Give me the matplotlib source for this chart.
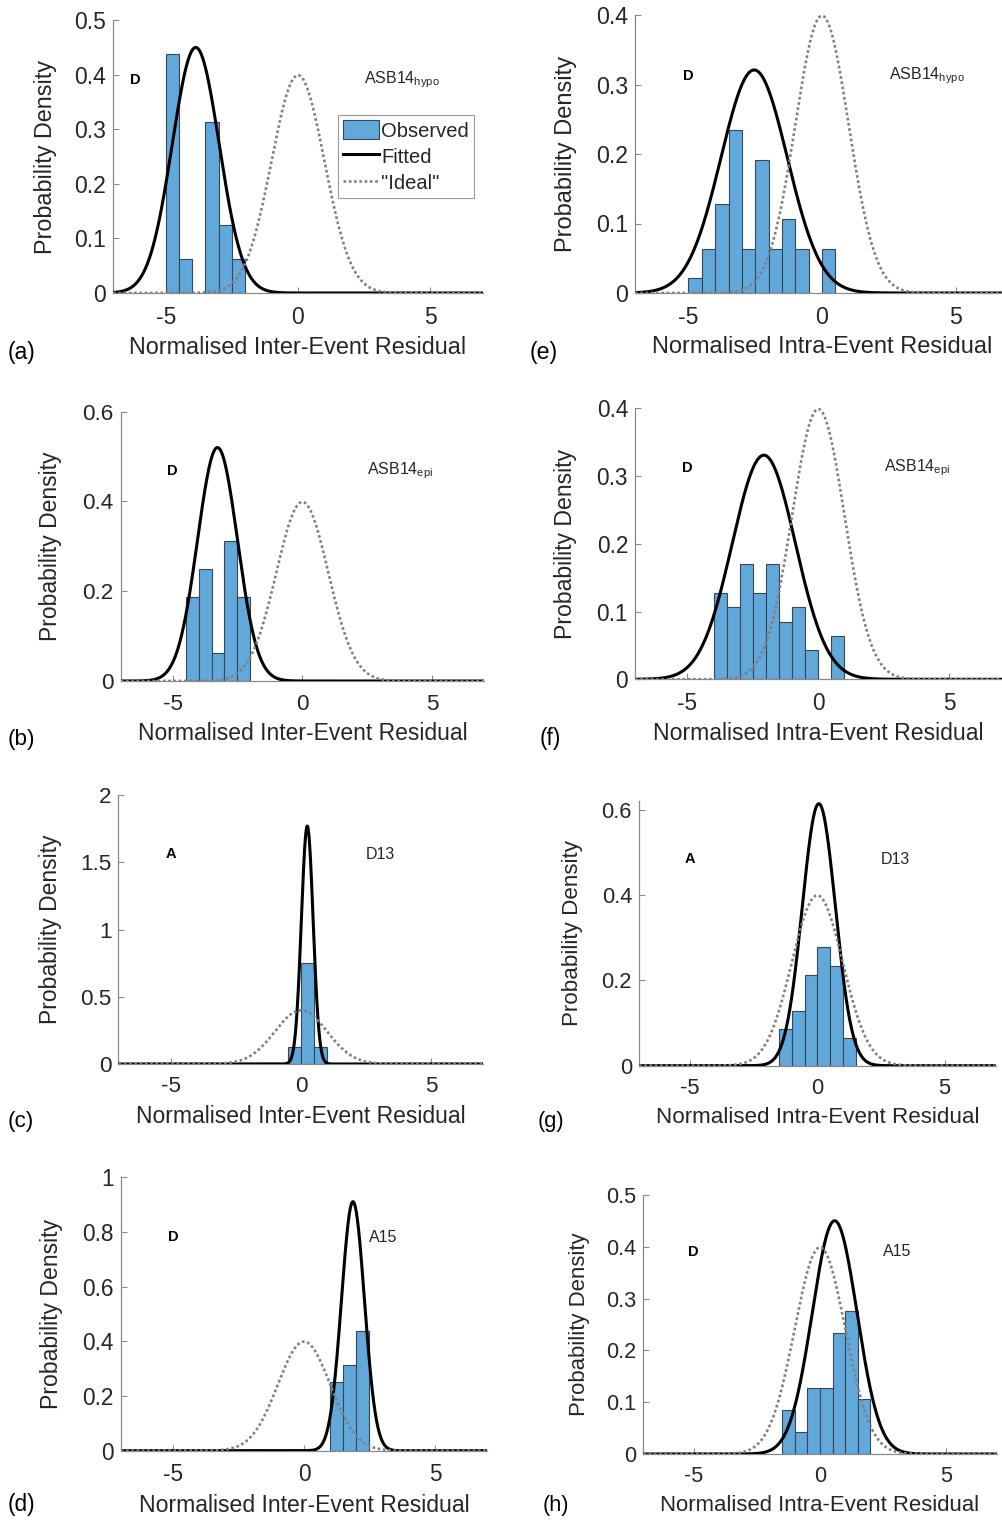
import numpy as np
import matplotlib
matplotlib.use("Agg")
import matplotlib.pyplot as plt
from matplotlib.ticker import FuncFormatter
from matplotlib.patches import Patch
from matplotlib.lines import Line2D

plt.rcParams['font.family'] = ['Liberation Sans', 'DejaVu Sans']
plt.rcParams['mathtext.fontset'] = 'custom'
plt.rcParams['mathtext.rm'] = 'Liberation Sans'
plt.rcParams['mathtext.it'] = 'Liberation Sans'
plt.rcParams['axes.unicode_minus'] = False

# ---------------- data ----------------
panel_letters = ['(a)', '(b)', '(c)', '(d)', '(e)', '(f)', '(g)', '(h)']
grade_labels = ['D', 'D', 'A', 'D', 'D', 'D', 'A', 'D']
model_labels = [r'ASB14$_{\mathrm{hypo}}$', r'ASB14$_{\mathrm{epi}}$', 'D13', 'A15',
                r'ASB14$_{\mathrm{hypo}}$', r'ASB14$_{\mathrm{epi}}$', 'D13', 'A15']
xlabels = ['Normalised Inter-Event Residual'] * 4 + ['Normalised Intra-Event Residual'] * 4

bin_width = 0.5
hist_start = [-5.0, -4.5, -0.5, 1.0, -5.0, -4.0, -1.5, -1.5]
hist_a = [0.4375, 0.0625, 0.0, 0.3125, 0.125, 0.0625]
hist_b = [0.1875, 0.25, 0.0625, 0.3125, 0.1875]
hist_c = [0.125, 0.75, 0.125]
hist_d = [0.25, 0.3125, 0.4375]
hist_e = [0.021, 0.064, 0.128, 0.234, 0.064, 0.191, 0.064, 0.106, 0.064, 0.0, 0.064]
hist_f = [0.128, 0.106, 0.170, 0.128, 0.170, 0.085, 0.106, 0.043, 0.0, 0.064]
hist_g = [0.085, 0.128, 0.213, 0.277, 0.234, 0.064]
hist_h = [0.085, 0.043, 0.128, 0.128, 0.234, 0.277, 0.106]
hists = [hist_a, hist_b, hist_c, hist_d, hist_e, hist_f, hist_g, hist_h]

fit_mean = [-3.87, -3.27, 0.24, 1.87, -2.54, -2.08, 0.06, 0.58]
fit_std = [0.887, 0.767, 0.2255, 0.438, 1.243, 1.206, 0.65, 0.886]
ideal_mean = 0.0
ideal_std = 1.0

y_max = [0.5, 0.6, 2.0, 1.0, 0.4, 0.4, 0.62, 0.5]
y_ticks = [[0, 0.1, 0.2, 0.3, 0.4, 0.5], [0, 0.2, 0.4, 0.6], [0, 0.5, 1, 1.5, 2],
           [0, 0.2, 0.4, 0.6, 0.8, 1], [0, 0.1, 0.2, 0.3, 0.4], [0, 0.1, 0.2, 0.3, 0.4],
           [0, 0.2, 0.4, 0.6], [0, 0.1, 0.2, 0.3, 0.4, 0.5]]
x_ticks = [-5, 0, 5]

# ---------------- layout (pixels) ----------------
W, H = 1003, 1521
boxes = [  # left, right, top, bottom
    (113, 483, 20, 293),
    (120.7, 484, 411.7, 681),
    (118.5, 483.5, 795, 1064),
    (120.7, 487.3, 1177.3, 1450.7),
    (635, 1009, 15, 293),
    (635, 1001.6, 408.3, 679.3),
    (639, 995.6, 801, 1065.7),
    (643.3, 996.7, 1195, 1454),
]
ylabel_x = [57, 62, 62, 63, 577, 577, 583, 590]
letter_pos = [(8, 352), (8, 740), (8, 1122), (8, 1505), (530, 352), (540, 738), (538, 1122), (543, 1505)]
label_size = [16.8, 16.5, 16.5, 16.6, 17.0, 16.6, 16.1, 15.9]
grade_x = [-6.17, -5.0, -5.0, -5.0, -5.0, -5.0, -5.0, -5.0]

bar_color = '#62A8DA'
bar_edge = '#35475a'
text_color = '#262626'
spine_color = '#8a8a8a'

fig = plt.figure(figsize=(W / 100, H / 100), dpi=100)
xs = np.linspace(-7, 7, 1200)

def npdf(x, m, s):
    return np.exp(-0.5 * ((x - m) / s) ** 2) / (s * np.sqrt(2 * np.pi))

for i in range(8):
    l, r, t, b = boxes[i]
    ax = fig.add_axes([l / W, 1 - b / H, (r - l) / W, (b - t) / H])
    h = np.array(hists[i])
    edges = hist_start[i] + bin_width * np.arange(len(h))
    mask = h > 0
    ax.bar(edges[mask], h[mask], width=bin_width, align='edge', color=bar_color,
           edgecolor=bar_edge, linewidth=0.8, zorder=2)
    ax.plot(xs, npdf(xs, fit_mean[i], fit_std[i]), color='black', lw=2.2, zorder=3)
    ax.plot(xs, npdf(xs, ideal_mean, ideal_std), color='#808080', lw=1.9,
            linestyle=(0, (1, 1)), zorder=4)
    ax.set_xlim(-7, 7)
    ax.set_ylim(0, y_max[i])
    ax.set_xticks(x_ticks)
    ax.set_yticks(y_ticks[i])
    ax.yaxis.set_major_formatter(FuncFormatter(lambda v, p: '%g' % v))
    for s in ['top', 'right']:
        ax.spines[s].set_visible(False)
    for s in ['left', 'bottom']:
        ax.spines[s].set_color(spine_color)
        ax.spines[s].set_linewidth(0.9)
    ts = label_size[i] * 0.98
    ax.tick_params(direction='in', length=4, width=0.8, color=spine_color,
                   labelsize=ts, labelcolor=text_color)
    ax.tick_params(axis='x', pad=9)
    ax.tick_params(axis='y', pad=5)
    ax.set_xlabel(xlabels[i], fontsize=label_size[i], color=text_color, labelpad=5.5)
    ax.set_ylabel('Probability Density', fontsize=label_size[i], color=text_color)
    ax.yaxis.set_label_coords((ylabel_x[i] - l) / (r - l), 0.5)
    ax.text(grade_x[i], 0.78, grade_labels[i], transform=ax.get_xaxis_transform(),
            fontsize=10.5, fontweight='bold', color='black', ha='center', va='center')
    ax.text(2.5, 0.78, model_labels[i], transform=ax.get_xaxis_transform(),
            fontsize=11.5, color=text_color, ha='left', va='center')
    lx, ly = letter_pos[i]
    fig.text(lx / W, 1 - ly / H, panel_letters[i], fontsize=label_size[i] * 0.98,
             color='black', ha='left', va='center')
    if i == 0:
        handles = [Patch(facecolor=bar_color, edgecolor=bar_edge, linewidth=0.8),
                   Line2D([], [], color='black', lw=2.2),
                   Line2D([], [], color='#808080', lw=1.9, linestyle=(0, (1, 1)))]
        leg = ax.legend(handles, ['Observed', 'Fitted', '"Ideal"'], loc='upper left',
                        bbox_to_anchor=(0.608, 0.652), fontsize=14.5, frameon=True,
                        fancybox=False, edgecolor='#999999', framealpha=1,
                        handlelength=1.8, handleheight=1.1, handletextpad=0.1,
                        borderpad=0.25, labelspacing=0.28, borderaxespad=0)
        leg.get_frame().set_linewidth(0.8)
        for txt in leg.get_texts():
            txt.set_color(text_color)

fig.savefig('out.png', dpi=100)
